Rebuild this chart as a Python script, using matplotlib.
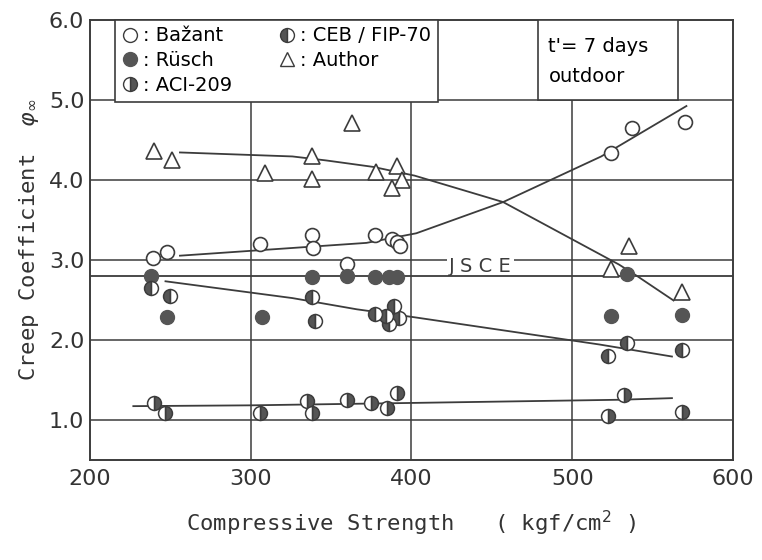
import matplotlib.pyplot as plt
from matplotlib.lines import Line2D
from matplotlib.patches import Rectangle

# datos
bazant_x = [239, 248, 306, 338, 339, 360, 377, 388, 391, 393, 524, 537, 570]
bazant_y = [3.02, 3.10, 3.19, 3.31, 3.15, 2.95, 3.31, 3.26, 3.22, 3.17, 4.33, 4.64, 4.72]

rusch_x = [238, 248, 307, 338, 360, 377, 386, 391, 534, 524, 568]
rusch_y = [2.79, 2.29, 2.28, 2.78, 2.79, 2.78, 2.78, 2.78, 2.82, 2.30, 2.31]

ceb_x = [238, 250, 338, 340, 377, 389, 386, 392, 384, 522, 534, 568]
ceb_y = [2.65, 2.55, 2.53, 2.24, 2.32, 2.42, 2.20, 2.27, 2.30, 1.80, 1.96, 1.87]

aci_x = [240, 247, 306, 335, 338, 360, 375, 385, 391, 532, 522, 568]
aci_y = [1.21, 1.09, 1.09, 1.23, 1.09, 1.25, 1.21, 1.15, 1.33, 1.31, 1.05, 1.10]

author_x = [240, 251, 309, 338, 338, 363, 378, 391, 394, 388, 524, 535, 568]
author_y = [4.36, 4.24, 4.08, 4.30, 4.01, 4.71, 4.10, 4.17, 3.99, 3.90, 2.88, 3.17, 2.60]

# curvas trazadas a mano
bazant_fit_x = [256, 372, 403, 457, 518, 571]
bazant_fit_y = [3.05, 3.21, 3.33, 3.72, 4.29, 4.92]
author_fit_x = [256, 326, 347, 376, 402, 457, 529, 540, 563]
author_fit_y = [4.34, 4.29, 4.24, 4.16, 4.05, 3.72, 2.94, 2.80, 2.49]
ceb_fit_x = [247, 326, 366, 402, 517, 562]
ceb_fit_y = [2.73, 2.52, 2.38, 2.28, 1.94, 1.79]
aci_fit_x = [227, 300, 400, 530, 562]
aci_fit_y = [1.17, 1.18, 1.21, 1.25, 1.27]
jsce_x = [200, 600]
jsce_y = [2.8, 2.8]

xticks = [200, 300, 400, 500, 600]
yticks = [1.0, 2.0, 3.0, 4.0, 5.0, 6.0]

tinta = "#3c3c3c"
gris = "#555555"
mono = "DejaVu Sans Mono"

fig = plt.figure(figsize=(7.62, 5.6), dpi=100)
ax = fig.add_axes([0.118, 0.179, 0.844, 0.786])
ax.set_xlim(200, 600)
ax.set_ylim(0.5, 6.0)

for y in yticks[:-1]:
    ax.axhline(y, color=tinta, lw=1.1, zorder=1)
for x in xticks[1:-1]:
    ax.axvline(x, color=tinta, lw=1.1, zorder=1)

for fx, fy in [(bazant_fit_x, bazant_fit_y), (author_fit_x, author_fit_y),
               (ceb_fit_x, ceb_fit_y), (aci_fit_x, aci_fit_y), (jsce_x, jsce_y)]:
    ax.plot(fx, fy, color=tinta, lw=1.3, zorder=2)
# la etiqueta corta la reticula de 3.0 como en el original
ax.text(443, 2.92, "J S C E", fontsize=14, ha="center", va="center", color=tinta,
        zorder=1.5, bbox=dict(facecolor="white", edgecolor="none", pad=1.5))

ms = 10
ax.plot(bazant_x, bazant_y, "o", ms=ms, mfc="white", mec=tinta, mew=1.2, ls="none", zorder=4)
ax.plot(rusch_x, rusch_y, "o", ms=ms, mfc=gris, mec=gris, ls="none", zorder=4)
ax.plot(ceb_x, ceb_y, "o", ms=ms, fillstyle="left", mfc=gris, mfcalt="white",
        mec=tinta, mew=1.1, ls="none", zorder=4)
ax.plot(aci_x, aci_y, "o", ms=ms, fillstyle="right", mfc=gris, mfcalt="white",
        mec=tinta, mew=1.1, ls="none", zorder=4)
ax.plot(author_x, author_y, "^", ms=ms + 1, mfc="white", mec=tinta, mew=1.2, ls="none", zorder=4)

handles = [
    Line2D([], [], marker="o", ms=ms, mfc="white", mec=tinta, ls="none"),
    Line2D([], [], marker="o", ms=ms, mfc=gris, mec=gris, ls="none"),
    Line2D([], [], marker="o", ms=ms, fillstyle="right", mfc=gris, mfcalt="white", mec=tinta, ls="none"),
    Line2D([], [], marker="o", ms=ms, fillstyle="left", mfc=gris, mfcalt="white", mec=tinta, ls="none"),
    Line2D([], [], marker="^", ms=ms, mfc="white", mec=tinta, ls="none"),
]
labels = [": Bažant", ": Rüsch", ": ACI-209", ": CEB / FIP-70", ": Author"]
leg = ax.legend(handles, labels, ncol=2, loc="upper left", bbox_to_anchor=(0.039, 1.0),
                borderaxespad=0, frameon=True, fancybox=False, framealpha=1,
                edgecolor=tinta, handlelength=0.8, handletextpad=0.3,
                columnspacing=2.4, labelspacing=0.3, borderpad=0.35,
                prop={"size": 14})
leg.get_frame().set_linewidth(1.2)
leg.set_zorder(6)

caja = Rectangle((0.697, 0.818), 0.218, 0.182, transform=ax.transAxes,
                 facecolor="white", edgecolor=tinta, lw=1.2, zorder=6)
ax.add_patch(caja)
ax.text(0.713, 0.94, "t'= 7 days", transform=ax.transAxes, fontsize=14,
        va="center", zorder=7)
ax.text(0.713, 0.87, "outdoor", transform=ax.transAxes, fontsize=14,
        va="center", zorder=7)

ax.set_xticks(xticks)
ax.set_yticks(yticks)
ax.set_yticklabels([f"{v:.1f}" for v in yticks])
ax.tick_params(axis="both", length=0, labelsize=16, colors="#333333")
ax.tick_params(axis="x", pad=7)
ax.tick_params(axis="y", pad=4)
for s in ax.spines.values():
    s.set_linewidth(1.4)
    s.set_color(tinta)

ax.set_xlabel("Compressive Strength   ( kgf/cm$^{2}$ )", family=mono, fontsize=16,
              color="#333333", labelpad=14)
ax.set_ylabel("Creep Coefficient  $\\varphi_{\\infty}$", family=mono, fontsize=16,
              color="#333333", labelpad=6)

plt.savefig("out.png", dpi=100)
